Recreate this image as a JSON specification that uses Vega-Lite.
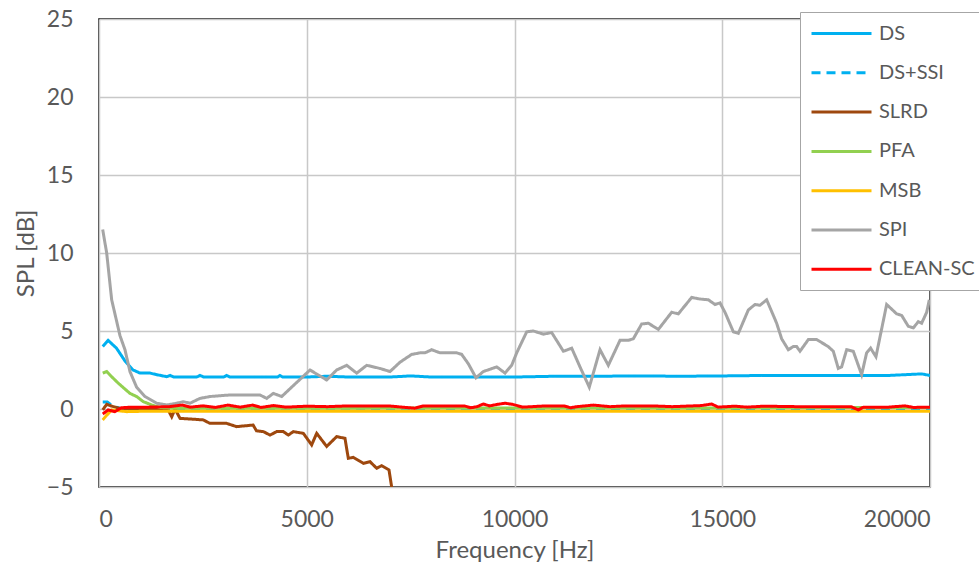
{
  "$schema": "https://vega.github.io/schema/vega-lite/v6.json",
  "width": 831,
  "height": 468,
  "autosize": "none",
  "padding": {"left": 99, "top": 19, "right": 49, "bottom": 82},
  "background": "white",
  "config": {
    "view": {"stroke": "black", "strokeWidth": 1.5},
    "font": "Lato",
    "axis": {
      "labelFont": "Lato", "titleFont": "Lato", "labelColor": "#595959", "titleColor": "#595959",
      "labelFontSize": 23, "titleFontSize": 24, "titleFontWeight": "normal",
      "ticks": false, "domain": false, "gridColor": "#C8C8C8", "gridWidth": 1.5
    },
    "legend": {"labelFont": "Lato", "labelFontSize": 20, "labelColor": "#595959"}
  },
  "data": {
    "values": [
      {"s":"DS","f":90,"v":4.0},{"s":"DS","f":220,"v":4.4},{"s":"DS","f":420,"v":3.9},{"s":"DS","f":620,"v":3.1},{"s":"DS","f":820,"v":2.5},{"s":"DS","f":990,"v":2.3},{"s":"DS","f":1230,"v":2.3},{"s":"DS","f":1390,"v":2.2},{"s":"DS","f":1630,"v":2.07},{"s":"DS","f":1710,"v":2.15},{"s":"DS","f":1800,"v":2.05},{"s":"DS","f":2350,"v":2.05},{"s":"DS","f":2430,"v":2.15},{"s":"DS","f":2520,"v":2.05},{"s":"DS","f":3000,"v":2.05},{"s":"DS","f":3073,"v":2.15},{"s":"DS","f":3150,"v":2.05},{"s":"DS","f":4300,"v":2.05},{"s":"DS","f":4356,"v":2.15},{"s":"DS","f":4420,"v":2.05},{"s":"DS","f":5000,"v":2.05},{"s":"DS","f":5500,"v":2.1},{"s":"DS","f":6000,"v":2.05},{"s":"DS","f":7000,"v":2.05},{"s":"DS","f":7500,"v":2.12},{"s":"DS","f":8000,"v":2.05},{"s":"DS","f":9000,"v":2.05},{"s":"DS","f":10000,"v":2.05},{"s":"DS","f":11000,"v":2.1},{"s":"DS","f":12000,"v":2.1},{"s":"DS","f":13000,"v":2.12},{"s":"DS","f":14000,"v":2.1},{"s":"DS","f":15000,"v":2.12},{"s":"DS","f":16000,"v":2.15},{"s":"DS","f":17000,"v":2.15},{"s":"DS","f":18000,"v":2.15},{"s":"DS","f":19000,"v":2.15},{"s":"DS","f":19800,"v":2.25},{"s":"DS","f":20000,"v":2.15},
      {"s":"DS+SSI","f":90,"v":0.45},{"s":"DS+SSI","f":200,"v":0.45},{"s":"DS+SSI","f":320,"v":0.2},{"s":"DS+SSI","f":500,"v":0.05},{"s":"DS+SSI","f":1000,"v":0.0},{"s":"DS+SSI","f":5000,"v":0.0},{"s":"DS+SSI","f":10000,"v":0.0},{"s":"DS+SSI","f":15000,"v":0.0},{"s":"DS+SSI","f":20000,"v":0.0},
      {"s":"SLRD","f":90,"v":-0.06},{"s":"SLRD","f":185,"v":0.3},{"s":"SLRD","f":300,"v":0.19},{"s":"SLRD","f":500,"v":0.04},{"s":"SLRD","f":800,"v":0.0},{"s":"SLRD","f":1200,"v":0.0},{"s":"SLRD","f":1650,"v":0.02},{"s":"SLRD","f":1750,"v":-0.5},{"s":"SLRD","f":1830,"v":0.0},{"s":"SLRD","f":1950,"v":-0.6},{"s":"SLRD","f":2190,"v":-0.64},{"s":"SLRD","f":2510,"v":-0.7},{"s":"SLRD","f":2670,"v":-0.92},{"s":"SLRD","f":3070,"v":-0.92},{"s":"SLRD","f":3310,"v":-1.13},{"s":"SLRD","f":3710,"v":-1.03},{"s":"SLRD","f":3790,"v":-1.4},{"s":"SLRD","f":3955,"v":-1.45},{"s":"SLRD","f":4116,"v":-1.67},{"s":"SLRD","f":4276,"v":-1.45},{"s":"SLRD","f":4436,"v":-1.45},{"s":"SLRD","f":4557,"v":-1.67},{"s":"SLRD","f":4677,"v":-1.45},{"s":"SLRD","f":4918,"v":-1.56},{"s":"SLRD","f":5118,"v":-2.3},{"s":"SLRD","f":5239,"v":-1.56},{"s":"SLRD","f":5480,"v":-2.4},{"s":"SLRD","f":5720,"v":-1.77},{"s":"SLRD","f":5920,"v":-1.88},{"s":"SLRD","f":6000,"v":-3.16},{"s":"SLRD","f":6122,"v":-3.1},{"s":"SLRD","f":6362,"v":-3.48},{"s":"SLRD","f":6523,"v":-3.38},{"s":"SLRD","f":6683,"v":-3.8},{"s":"SLRD","f":6803,"v":-3.63},{"s":"SLRD","f":6979,"v":-3.9},{"s":"SLRD","f":7044,"v":-5.0},{"s":"SLRD","f":7100,"v":-6.5},
      {"s":"PFA","f":90,"v":2.3},{"s":"PFA","f":185,"v":2.4},{"s":"PFA","f":305,"v":2.07},{"s":"PFA","f":465,"v":1.65},{"s":"PFA","f":585,"v":1.37},{"s":"PFA","f":745,"v":1.0},{"s":"PFA","f":905,"v":0.8},{"s":"PFA","f":1066,"v":0.47},{"s":"PFA","f":1268,"v":0.26},{"s":"PFA","f":1468,"v":0.1},{"s":"PFA","f":1800,"v":0.05},{"s":"PFA","f":5000,"v":0.05},{"s":"PFA","f":10000,"v":0.07},{"s":"PFA","f":15000,"v":0.07},{"s":"PFA","f":18500,"v":0.1},{"s":"PFA","f":20000,"v":0.1},
      {"s":"MSB","f":90,"v":-0.7},{"s":"MSB","f":185,"v":-0.4},{"s":"MSB","f":305,"v":-0.06},{"s":"MSB","f":666,"v":-0.17},{"s":"MSB","f":1000,"v":-0.15},{"s":"MSB","f":5000,"v":-0.15},{"s":"MSB","f":10000,"v":-0.15},{"s":"MSB","f":15000,"v":-0.15},{"s":"MSB","f":20000,"v":-0.15},
      {"s":"SPI","f":89,"v":11.5},{"s":"SPI","f":185,"v":10.0},{"s":"SPI","f":305,"v":7.0},{"s":"SPI","f":505,"v":4.7},{"s":"SPI","f":625,"v":3.8},{"s":"SPI","f":745,"v":2.4},{"s":"SPI","f":905,"v":1.4},{"s":"SPI","f":1107,"v":0.8},{"s":"SPI","f":1388,"v":0.37},{"s":"SPI","f":1629,"v":0.26},{"s":"SPI","f":1870,"v":0.37},{"s":"SPI","f":2030,"v":0.47},{"s":"SPI","f":2190,"v":0.37},{"s":"SPI","f":2430,"v":0.68},{"s":"SPI","f":2671,"v":0.8},{"s":"SPI","f":3153,"v":0.9},{"s":"SPI","f":3875,"v":0.9},{"s":"SPI","f":4036,"v":0.68},{"s":"SPI","f":4196,"v":1.0},{"s":"SPI","f":4397,"v":0.8},{"s":"SPI","f":4597,"v":1.3},{"s":"SPI","f":5078,"v":2.5},{"s":"SPI","f":5480,"v":1.86},{"s":"SPI","f":5720,"v":2.5},{"s":"SPI","f":5961,"v":2.8},{"s":"SPI","f":6202,"v":2.3},{"s":"SPI","f":6443,"v":2.8},{"s":"SPI","f":6763,"v":2.6},{"s":"SPI","f":7004,"v":2.4},{"s":"SPI","f":7244,"v":3.0},{"s":"SPI","f":7525,"v":3.5},{"s":"SPI","f":7726,"v":3.6},{"s":"SPI","f":7846,"v":3.6},{"s":"SPI","f":8006,"v":3.8},{"s":"SPI","f":8207,"v":3.6},{"s":"SPI","f":8448,"v":3.6},{"s":"SPI","f":8608,"v":3.6},{"s":"SPI","f":8729,"v":3.5},{"s":"SPI","f":8889,"v":2.9},{"s":"SPI","f":9073,"v":2.0},{"s":"SPI","f":9249,"v":2.4},{"s":"SPI","f":9572,"v":2.7},{"s":"SPI","f":9772,"v":2.3},{"s":"SPI","f":9932,"v":2.8},{"s":"SPI","f":10053,"v":3.6},{"s":"SPI","f":10294,"v":4.95},{"s":"SPI","f":10454,"v":5.0},{"s":"SPI","f":10695,"v":4.8},{"s":"SPI","f":10895,"v":4.9},{"s":"SPI","f":11177,"v":3.7},{"s":"SPI","f":11377,"v":3.9},{"s":"SPI","f":11576,"v":2.7},{"s":"SPI","f":11800,"v":1.4},{"s":"SPI","f":12058,"v":3.8},{"s":"SPI","f":12258,"v":2.8},{"s":"SPI","f":12539,"v":4.4},{"s":"SPI","f":12739,"v":4.4},{"s":"SPI","f":12860,"v":4.5},{"s":"SPI","f":13061,"v":5.45},{"s":"SPI","f":13221,"v":5.5},{"s":"SPI","f":13462,"v":5.1},{"s":"SPI","f":13783,"v":6.2},{"s":"SPI","f":13943,"v":6.1},{"s":"SPI","f":14264,"v":7.15},{"s":"SPI","f":14465,"v":7.05},{"s":"SPI","f":14665,"v":7.0},{"s":"SPI","f":14826,"v":6.7},{"s":"SPI","f":14946,"v":6.8},{"s":"SPI","f":15066,"v":6.2},{"s":"SPI","f":15267,"v":4.95},{"s":"SPI","f":15387,"v":4.85},{"s":"SPI","f":15628,"v":6.35},{"s":"SPI","f":15788,"v":6.7},{"s":"SPI","f":15908,"v":6.65},{"s":"SPI","f":16069,"v":7.0},{"s":"SPI","f":16309,"v":5.5},{"s":"SPI","f":16430,"v":4.5},{"s":"SPI","f":16590,"v":3.8},{"s":"SPI","f":16710,"v":4.0},{"s":"SPI","f":16791,"v":4.0},{"s":"SPI","f":16871,"v":3.7},{"s":"SPI","f":17072,"v":4.45},{"s":"SPI","f":17272,"v":4.45},{"s":"SPI","f":17553,"v":4.0},{"s":"SPI","f":17673,"v":3.7},{"s":"SPI","f":17793,"v":2.6},{"s":"SPI","f":17873,"v":2.7},{"s":"SPI","f":17994,"v":3.8},{"s":"SPI","f":18154,"v":3.7},{"s":"SPI","f":18355,"v":2.2},{"s":"SPI","f":18475,"v":3.6},{"s":"SPI","f":18571,"v":3.9},{"s":"SPI","f":18699,"v":3.35},{"s":"SPI","f":18957,"v":6.7},{"s":"SPI","f":19198,"v":6.1},{"s":"SPI","f":19318,"v":6.0},{"s":"SPI","f":19478,"v":5.3},{"s":"SPI","f":19599,"v":5.2},{"s":"SPI","f":19719,"v":5.6},{"s":"SPI","f":19799,"v":5.5},{"s":"SPI","f":19920,"v":6.2},{"s":"SPI","f":19984,"v":7.0},
      {"s":"CLEAN-SC","f":90,"v":-0.32},{"s":"CLEAN-SC","f":220,"v":-0.06},{"s":"CLEAN-SC","f":380,"v":-0.17},{"s":"CLEAN-SC","f":540,"v":0.08},{"s":"CLEAN-SC","f":800,"v":0.12},{"s":"CLEAN-SC","f":1200,"v":0.12},{"s":"CLEAN-SC","f":1700,"v":0.15},{"s":"CLEAN-SC","f":2000,"v":0.25},{"s":"CLEAN-SC","f":2200,"v":0.12},{"s":"CLEAN-SC","f":2500,"v":0.2},{"s":"CLEAN-SC","f":2800,"v":0.1},{"s":"CLEAN-SC","f":3100,"v":0.25},{"s":"CLEAN-SC","f":3400,"v":0.12},{"s":"CLEAN-SC","f":3700,"v":0.25},{"s":"CLEAN-SC","f":3900,"v":0.1},{"s":"CLEAN-SC","f":4200,"v":0.22},{"s":"CLEAN-SC","f":4500,"v":0.12},{"s":"CLEAN-SC","f":5000,"v":0.18},{"s":"CLEAN-SC","f":5500,"v":0.15},{"s":"CLEAN-SC","f":6000,"v":0.2},{"s":"CLEAN-SC","f":7000,"v":0.19},{"s":"CLEAN-SC","f":7600,"v":0.05},{"s":"CLEAN-SC","f":7800,"v":0.19},{"s":"CLEAN-SC","f":8800,"v":0.19},{"s":"CLEAN-SC","f":8950,"v":0.08},{"s":"CLEAN-SC","f":9100,"v":0.15},{"s":"CLEAN-SC","f":9249,"v":0.32},{"s":"CLEAN-SC","f":9400,"v":0.2},{"s":"CLEAN-SC","f":9600,"v":0.3},{"s":"CLEAN-SC","f":9772,"v":0.37},{"s":"CLEAN-SC","f":9950,"v":0.3},{"s":"CLEAN-SC","f":10200,"v":0.12},{"s":"CLEAN-SC","f":10700,"v":0.19},{"s":"CLEAN-SC","f":11200,"v":0.19},{"s":"CLEAN-SC","f":11350,"v":0.08},{"s":"CLEAN-SC","f":11500,"v":0.15},{"s":"CLEAN-SC","f":11900,"v":0.25},{"s":"CLEAN-SC","f":12300,"v":0.15},{"s":"CLEAN-SC","f":12600,"v":0.19},{"s":"CLEAN-SC","f":13400,"v":0.19},{"s":"CLEAN-SC","f":13800,"v":0.15},{"s":"CLEAN-SC","f":14500,"v":0.22},{"s":"CLEAN-SC","f":14746,"v":0.32},{"s":"CLEAN-SC","f":14900,"v":0.12},{"s":"CLEAN-SC","f":15300,"v":0.18},{"s":"CLEAN-SC","f":15600,"v":0.12},{"s":"CLEAN-SC","f":16000,"v":0.18},{"s":"CLEAN-SC","f":16800,"v":0.15},{"s":"CLEAN-SC","f":17500,"v":0.15},{"s":"CLEAN-SC","f":18100,"v":0.15},{"s":"CLEAN-SC","f":18275,"v":-0.06},{"s":"CLEAN-SC","f":18400,"v":0.12},{"s":"CLEAN-SC","f":19000,"v":0.12},{"s":"CLEAN-SC","f":19400,"v":0.2},{"s":"CLEAN-SC","f":19600,"v":0.1},{"s":"CLEAN-SC","f":20000,"v":0.12}
    ]
  },
  "mark": {"type": "line", "strokeWidth": 3, "clip": true},
  "encoding": {
    "x": {
      "field": "f", "type": "quantitative",
      "scale": {"domain": [0, 20000], "nice": false},
      "axis": {"values": [0, 5000, 10000, 15000, 20000], "format": "d", "title": "Frequency [Hz]", "labelPadding": 21, "titlePadding": 7}
    },
    "y": {
      "field": "v", "type": "quantitative",
      "scale": {"domain": [-5, 25], "nice": false},
      "axis": {"values": [-5, 0, 5, 10, 15, 20, 25], "title": "SPL [dB]", "labelPadding": 26, "titlePadding": 8}
    },
    "color": {
      "field": "s", "type": "nominal",
      "scale": {
        "domain": ["DS", "DS+SSI", "SLRD", "PFA", "MSB", "SPI", "CLEAN-SC"],
        "range": ["#00B0F0", "#00B0F0", "#9E480E", "#92D050", "#FFC000", "#A5A5A5", "#FF0000"]
      },
      "legend": {
        "title": null, "orient": "none", "legendX": 701, "legendY": -7,
        "symbolType": "M-3,0H3", "symbolStrokeWidth": 3, "symbolSize": 400, "symbolOffset": 20,
        "fillColor": "white", "strokeColor": "#A6A6A6", "padding": 10,
        "rowPadding": 17.3, "labelOffset": 26, "labelLimit": 300
      }
    },
    "strokeDash": {
      "field": "s", "type": "nominal",
      "scale": {
        "domain": ["DS", "DS+SSI", "SLRD", "PFA", "MSB", "SPI", "CLEAN-SC"],
        "range": [[1, 0], [9, 6], [1, 0], [1, 0], [1, 0], [1, 0], [1, 0]]
      },
      "legend": {"title": null}
    }
  }
}
